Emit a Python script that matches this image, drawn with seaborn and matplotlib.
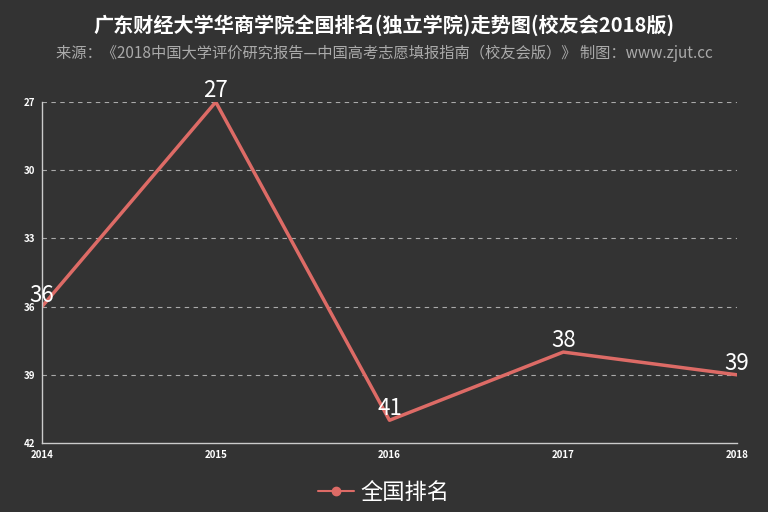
import pandas as pd
import matplotlib.pyplot as plt
import seaborn as sns

years = [2014, 2015, 2016, 2017, 2018]
ranks = [36, 27, 41, 38, 39]
y_ticks = [27, 30, 33, 36, 39, 42]

title = "广东财经大学华商学院全国排名(独立学院)走势图(校友会2018版)"
subtitle = "来源：《2018中国大学评价研究报告—中国高考志愿填报指南（校友会版）》 制图：www.zjut.cc"
series_name = "全国排名"

df = pd.DataFrame({"year": years, "rank": ranks})

sns.set_theme(style="dark")
plt.rcParams['font.family'] = ['Noto Sans CJK SC', 'DejaVu Sans']

bg = "#333333"
line_color = "#dd6b66"

fig = plt.figure(figsize=(7.68, 5.12), dpi=100, facecolor=bg)
ax = fig.add_axes([42/768, 1-443/512, (737-42)/768, (443-102)/512])
ax.set_facecolor(bg)

sns.lineplot(data=df, x="year", y="rank", ax=ax, color=line_color, linewidth=2.5,
             label=series_name, legend=False)

ax.set_xlim(2014, 2018)
ax.set_ylim(42, 27)
ax.set_xticks(years)
ax.set_yticks(y_ticks)
ax.set_xticklabels([str(y) for y in years], color="white", fontsize=7, fontweight="bold")
ax.set_yticklabels([str(t) for t in y_ticks], color="white", fontsize=7, fontweight="bold")
ax.set_xlabel("")
ax.set_ylabel("")
ax.tick_params(axis="both", colors="#cccccc", length=4, width=1, pad=1, labelcolor="white")

ax.grid(False)
for t in y_ticks[:-1]:
    ax.axhline(t, color="#aaaaaa", linestyle=(0, (4, 4)), linewidth=0.8, zorder=0)

for s in ["top", "right"]:
    ax.spines[s].set_visible(False)
for s in ["left", "bottom"]:
    ax.spines[s].set_color("#cccccc")
    ax.spines[s].set_linewidth(1)

for x, y in zip(years, ranks):
    ax.annotate(str(y), (x, y), xytext=(0, 0), textcoords="offset points",
                ha="center", va="bottom", color="white", fontsize=16, clip_on=False)

fig.text(0.5, 1-25/512, title, ha="center", va="center", color="white",
         fontsize=14.5, fontweight="bold")
fig.text(0.5, 1-53/512, subtitle, ha="center", va="center", color="#aaaaaa",
         fontsize=11)

handle = plt.Line2D([], [], color=line_color, linewidth=1.5, marker="o", markersize=6)
fig.legend([handle], [series_name], loc="center", bbox_to_anchor=(0.5, 1-492/512),
           frameon=False, fontsize=16, labelcolor="white", handlelength=1.6,
           handletextpad=0.3)

fig.savefig("out.png", dpi=100, facecolor=bg)
